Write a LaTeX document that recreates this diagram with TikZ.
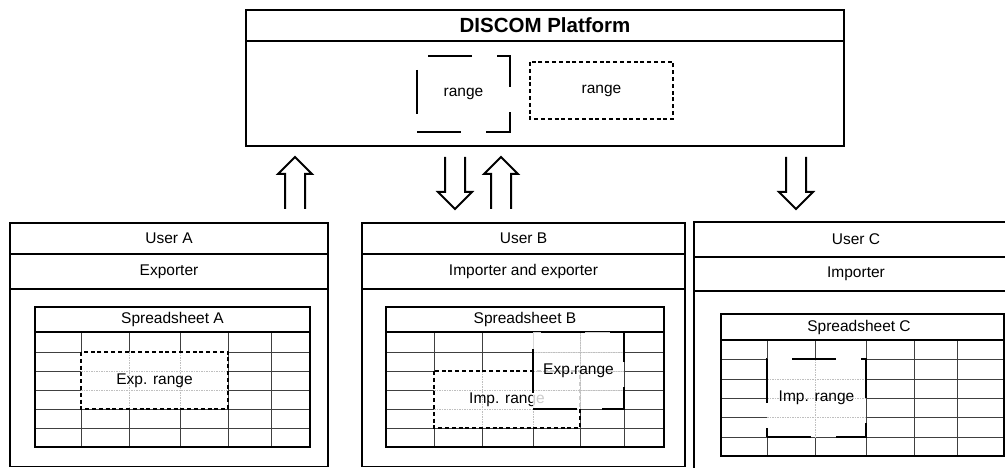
\documentclass[tikz,border=0pt]{standalone}
\usepackage{fontspec}
\setmainfont{Liberation Sans}
\usetikzlibrary{calc}
\tikzset{
frame/.style={
  line width=1.4pt,
  draw=black,
  }
}
\tikzset{
gridline/.style={line width=0.8pt, draw=black!75},
faintgrid/.style={line width=0.6pt, draw=black!25, dash pattern=on 1.5pt off 1pt},
dotrange/.style={line width=2.3pt, dash pattern=on 4pt off 2.8pt},
longrange/.style={line width=2.6pt, dash pattern=on 44pt off 25pt},
lbl/.style={font=\fontsize{15.5}{18}\selectfont, inner sep=0pt},
headline/.style={font=\bfseries\fontsize{20.5}{24}\selectfont, inner sep=0pt},
}
\tikzset{
hollow/.style={
  line width=2pt,
  to path={
    ($(\tikztotarget)!17pt!(\tikztostart)$) coordinate (hb)
    ($(\tikztostart)!10pt!-90:(\tikztotarget)$) -- ($(hb)!10pt!-90:(\tikztotarget)$)
    -- ($(hb)!17pt!-90:(\tikztotarget)$) -- (\tikztotarget)
    -- ($(hb)!17pt!90:(\tikztotarget)$) -- ($(hb)!10pt!90:(\tikztotarget)$)
    -- ($(\tikztostart)!10pt!90:(\tikztotarget)$)
    }
  }
}

\begin{document}
\begin{tikzpicture}[x=1pt,y=-1pt]
    \useasboundingbox (0,0) rectangle (1005,468);
    \clip (0,0) rectangle (1005,468);
    \fill[white] (0,0) rectangle (1005,468);

    % platform part
    \draw[frame] (246,10) rectangle (844,146);
    \draw[frame] (246,41) -- (844,41);
    \node[headline] (platform) at (545,25.5) {DISCOM Platform};
    \draw[longrange] (417,132) -- (510,132) -- (510,56) -- (417,56) -- cycle;
    \node[lbl] (rngL) at (463.5,94) {range};
    \draw[dotrange] (530,62) rectangle (673,119);
    \node[lbl] (rngR) at (601.5,90.5) {range};

    % user A part
    \draw[frame] (10,223) rectangle (328,466.5);
    \draw[frame] (10,254) -- (328,254);
    \draw[frame] (10,289) -- (328,289);
    \node[lbl] (userA) at (169,238.5) {User A};
    \node[lbl] (roleA) at (169,271.5) {Exporter};
    \foreach \x in {81,129,180,228,271} \draw[gridline] (\x,332) -- (\x,447);
    \foreach \y in {352,371,390,409,428} \draw[gridline] (35,\y) -- (310,\y);
    \draw[frame] (35,307) rectangle (310,447);
    \draw[frame] (35,332) -- (310,332);
    \node[lbl] (sheetA) at (172.5,319.5) {Spreadsheet A};
    \fill[white] (81,352) rectangle (228,409);
    \foreach \x in {129,180} \draw[faintgrid] (\x,352) -- (\x,409);
    \foreach \y in {371,390} \draw[faintgrid] (81,\y) -- (228,\y);
    \draw[dotrange] (81,352) rectangle (228,409);
    \node[lbl] (expA) at (154.5,380.5) {Exp. range};

    % user B part
    \draw[frame] (362,223) rectangle (685,466.5);
    \draw[frame] (362,254) -- (685,254);
    \draw[frame] (362,289) -- (685,289);
    \node[lbl] (userB) at (523.5,238.5) {User B};
    \node[lbl] (roleB) at (523.5,271.5) {Importer and exporter};
    \foreach \x in {434,482,533,580,624} \draw[gridline] (\x,332) -- (\x,447);
    \foreach \y in {352,371,390,409,428} \draw[gridline] (386,\y) -- (664,\y);
    \draw[frame] (386,307) rectangle (664,447);
    \draw[frame] (386,332) -- (664,332);
    \node[lbl] (sheetB) at (525,319.5) {Spreadsheet B};
    \fill[white] (434,371) rectangle (580,428);
    \foreach \x in {482,533} \draw[faintgrid] (\x,371) -- (\x,428);
    \foreach \y in {390,409} \draw[faintgrid] (434,\y) -- (580,\y);
    \draw[dotrange] (434,371) rectangle (580,428);
    \node[lbl] (impB) at (507,399.5) {Imp. range};
    \fill[white, fill opacity=0.8] (533,332) rectangle (624,409);
    \draw[faintgrid] (580,332) -- (580,409);
    \foreach \y in {352,371,390} \draw[faintgrid] (533,\y) -- (624,\y);
    \draw[longrange] (533,409) -- (624,409) -- (624,332) -- (533,332) -- cycle;
    \node[lbl] (expB) at (578.5,370.5) {Exp.range};

    % user C part
    \draw[frame] (694,222) rectangle (1015,480);
    \draw[frame] (694,257) -- (1015,257);
    \draw[frame] (694,291) -- (1015,291);
    \node[lbl] (userC) at (856,239.5) {User C};
    \node[lbl] (roleC) at (856,274) {Importer};
    \foreach \x in {767,815,866,914,957} \draw[gridline] (\x,340) -- (\x,456);
    \foreach \y in {359,379,398,417,437} \draw[gridline] (721,\y) -- (1004,\y);
    \draw[frame] (721,314) rectangle (1004,456);
    \draw[frame] (721,340) -- (1004,340);
    \node[lbl] (sheetC) at (859,327) {Spreadsheet C};
    \fill[white] (767,359) rectangle (866,437);
    \draw[faintgrid] (815,359) -- (815,437);
    \foreach \y in {379,398,417} \draw[faintgrid] (767,\y) -- (866,\y);
    \draw[longrange] (767,437) -- (866,437) -- (866,359) -- (767,359) -- cycle;
    \node[lbl] (impC) at (816.5,398) {Imp. range};

    % exchange arrows
    \coordinate (upAbot) at (295,209);
    \coordinate (upAtop) at (295,157);
    \coordinate (downBtop) at (455,157);
    \coordinate (downBbot) at (455,209);
    \coordinate (upBbot) at (501,209);
    \coordinate (upBtop) at (501,157);
    \coordinate (downCtop) at (796,157);
    \coordinate (downCbot) at (796,209);
    \draw[hollow] (upAbot) to (upAtop);
    \draw[hollow] (downBtop) to (downBbot);
    \draw[hollow] (upBbot) to (upBtop);
    \draw[hollow] (downCtop) to (downCbot);
\end{tikzpicture}
\end{document}
